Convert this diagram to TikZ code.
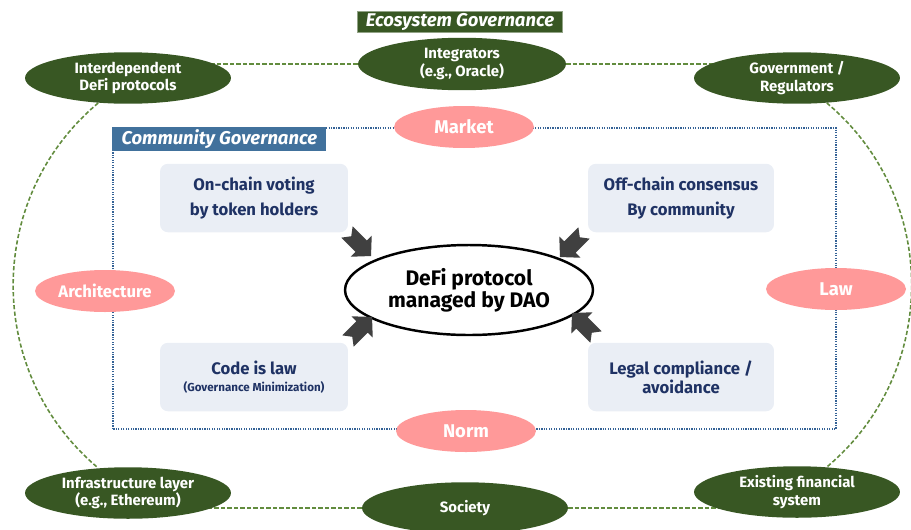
\documentclass[tikz,border=0pt]{standalone}
\usepackage{fontspec}
\setmainfont{Fira Sans}
\usetikzlibrary{calc,shapes.geometric,backgrounds}
\definecolor{ecogreen}{RGB}{56,87,35}
\definecolor{linkgreen}{RGB}{98,140,62}
\definecolor{pinkfill}{RGB}{255,153,153}
\definecolor{comblue}{RGB}{65,113,156}
\definecolor{dotblue}{RGB}{52,98,150}
\definecolor{boxfill}{RGB}{234,238,245}
\definecolor{navytext}{RGB}{31,50,100}
\definecolor{arrowgray}{RGB}{64,64,64}
\newcommand{\notcharrow}[2]{\fill[arrowgray, shift={(#1)}, rotate=#2] (-17,8) -- (-11,0) -- (-17,-8) -- (3,-8) -- (3,-15) -- (17,0) -- (3,15) -- (3,8) -- cycle;}
\tikzset{
	actor/.style={ellipse, fill=ecogreen, text=white, inner sep=0pt, minimum width=4.12cm, minimum height=1.03cm, align=center, font=\fontsize{8.5}{10}\selectfont\bfseries},
	factor/.style={ellipse, fill=pinkfill, text=white, inner sep=0pt, minimum width=2.8cm, minimum height=0.84cm, font=\fontsize{10.5}{12}\selectfont\bfseries},
	mech/.style={rounded corners=4.5pt, fill=boxfill, text=navytext, minimum width=3.76cm, minimum height=1.37cm, align=center, inner sep=0pt, font=\fontsize{9.5}{11}\selectfont\bfseries},
	govtag/.style={text=white, inner sep=0pt, font=\fontsize{10.5}{11}\selectfont\bfseries\itshape},
	ecolink/.style={draw=linkgreen, line width=0.9pt, dash pattern=on 2.4pt off 1.3pt},
	frameline/.style={draw=dotblue, line width=1.1pt, dash pattern=on 0.7pt off 0.7pt},
}

\begin{document}
\begin{tikzpicture}[x=0.02cm, y=0.02cm]
	%%%%% START %%%%%
	\useasboundingbox (0,0) rectangle (911,529);
	
	% ecosystem actors
	\node[actor] (idp) at (128,451) {Interdependent\\DeFi protocols};
	\node[actor, minimum width=4.16cm, minimum height=1.05cm] (integ) at (462,465) {Integrators\\(e.g., Oracle)};
	\node[actor] (gov) at (797,451) {Government /\\Regulators};
	\node[actor] (infra) at (128,36) {Infrastructure layer\\(e.g., Ethereum)};
	\node[actor] (society) at (465,21) {Society};
	\node[actor] (exist) at (797,37) {Existing financial\\system};
	
	\node[govtag, fill=ecogreen, draw=ecogreen!55!white, line width=0.6pt, minimum width=4.1cm, minimum height=0.42cm] (ecotag) at (460,507) {Ecosystem Governance};
	
	% community governance
	\node[govtag, fill=comblue, anchor=north west, minimum width=4.28cm, minimum height=0.48cm] (comtag) at (112,402) {Community Governance};
	
	\node[factor] (market) at (464,402) {Market};
	\node[factor] (norm) at (466,98) {Norm};
	\node[factor, font=\fontsize{9.5}{11}\selectfont\bfseries] (arch) at (105,238) {Architecture};
	\node[factor] (law) at (836,240) {Law};
	
	\node[mech] (vote) at (254,331) {On-chain voting\\[3.5pt]by token holders};
	\node[mech, minimum width=3.72cm] (offc) at (681,331) {Off-chain consensus\\[3.5pt]By community};
	\node[mech] (code) at (254,152) {Code is law\\[-1pt]{\fontsize{6.6}{8}\selectfont (Governance Minimization)}};
	\node[mech, minimum width=3.72cm] (legal) at (681,152) {Legal compliance /\\avoidance};
	
	\node[ellipse, draw, line width=1.4pt, fill=white, minimum width=4.96cm, minimum height=1.8cm, inner sep=0pt, align=center, font=\fontsize{12}{12.5}\selectfont\bfseries] (dao) at (469,239) {DeFi protocol\\managed by DAO};
	
	\notcharrow{$(dao)+(-110,46)$}{-45}
	\notcharrow{$(dao)+(103,45)$}{-135}
	\notcharrow{$(dao)+(-109,-39)$}{45}
	\notcharrow{$(dao)+(115,-35)$}{135}
	
	\begin{scope}[on background layer]
		\draw[ecolink] (integ.west) -- (integ.west -| idp);
		\draw[ecolink] (integ.east) -- (integ.east -| gov);
		\draw[ecolink] (society.west) -- (society.west -| infra);
		\draw[ecolink] (society.east) -- (society.east -| exist);
		\draw[ecolink] (idp) to[bend right=50, looseness=1.04] (infra);
		\draw[ecolink] (gov) to[bend left=50, looseness=1.04] (exist);
		\draw[frameline] (113,100) rectangle (836,401);
	\end{scope}
	%%%%% END %%%%%
\end{tikzpicture}
\end{document}
